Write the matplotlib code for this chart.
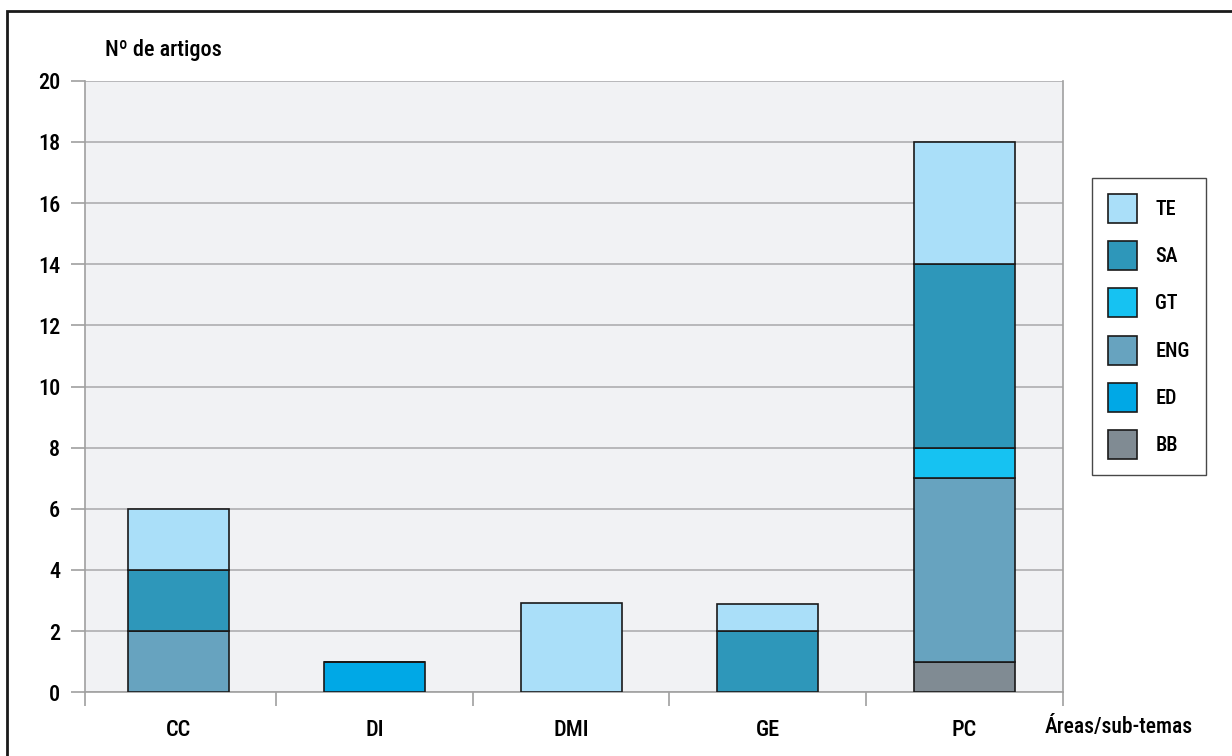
import numpy as np
import matplotlib
matplotlib.use("Agg")
import matplotlib.pyplot as plt
from matplotlib.patches import Rectangle, Patch

plt.rcParams['font.family'] = ['Roboto Condensed', 'Liberation Sans', 'DejaVu Sans']
plt.rcParams['font.weight'] = 'medium'

areas = ["CC", "DI", "DMI", "GE", "PC"]
# sub-themes, stacked from the bottom up
temas = ["BB", "ED", "ENG", "GT", "SA", "TE"]
bb = [0, 0, 0, 0, 1]
ed = [0, 1, 0, 0, 0]
eng = [2, 0, 0, 0, 6]
gt = [0, 0, 0, 0, 1]
sa = [2, 0, 0, 2, 6]
te = [2, 0, 2.93, 0.9, 4]
cores = ["#808b93", "#00a8e6", "#67a3bf", "#16c2f2", "#2e97ba", "#aadff9"]

W, H = 1232, 756
fig = plt.figure(figsize=(W / 100, H / 100), dpi=100)
ax = fig.add_axes([84.5 / W, 1 - 692.3 / H, (1063 - 84.5) / W, (692.3 - 80.7) / H])
ax.set_facecolor("#f1f2f4")

x = np.arange(len(areas))
base = np.zeros(len(areas))
for nome, vals, cor in zip(temas, [bb, ed, eng, gt, sa, te], cores):
    vals = np.array(vals, dtype=float)
    ax.bar(x, vals, 0.514, bottom=base, color=cor, edgecolor="#1a1a1a",
           linewidth=1.2, zorder=3)
    base += vals

xl, xr = -0.476, 4.503
ax.set_xlim(xl, xr)
ax.set_ylim(0, 20)
ax.set_yticks(range(0, 21, 2))
ax.yaxis.grid(True, color="#b3b3b5", linewidth=1.3, zorder=0)
ax.tick_params(axis="y", length=10, width=1.2, color="#a0a0a0", labelsize=16, pad=7.5)

ax.set_xticks(x)
ax.set_xticklabels(areas)
ax.set_xticks([xl, 0.5, 1.5, 2.5, 3.5, xr], minor=True)
ax.tick_params(axis="x", which="major", length=0, labelsize=16, pad=19)
ax.tick_params(axis="x", which="minor", length=10, width=1.2, color="#a0a0a0")

ax.spines["top"].set_visible(False)
for s in ["left", "bottom", "right"]:
    ax.spines[s].set_color("#a0a0a0")
    ax.spines[s].set_linewidth(1.2)

fig.text(105 / W, 1 - 50 / H, "Nº de artigos", fontsize=16, va="center", ha="left")
fig.text(1045 / W, 1 - 727 / H, "Áreas/sub-temas", fontsize=15.5, va="center", ha="left")

handles = [Patch(facecolor=c, edgecolor="#1a1a1a", linewidth=1.2) for c in cores][::-1]
leg = fig.legend(handles, temas[::-1], loc="upper left",
                 bbox_to_anchor=(1092 / W, 1 - 178 / H), fontsize=14.5,
                 frameon=True, fancybox=False, edgecolor="#1a1a1a",
                 handlelength=1.44, handleheight=1.84, labelspacing=0.9,
                 handletextpad=0.9, borderpad=0.8, borderaxespad=0)
leg.get_frame().set_linewidth(1.0)

# outer frame around the figure
fig.patches.append(Rectangle((7 / W, -0.1), 1.2, 1.1 - 11 / H,
                             transform=fig.transFigure, fill=False,
                             edgecolor="#1a1a1a", linewidth=2.0))

fig.savefig("out.png", dpi=100)
